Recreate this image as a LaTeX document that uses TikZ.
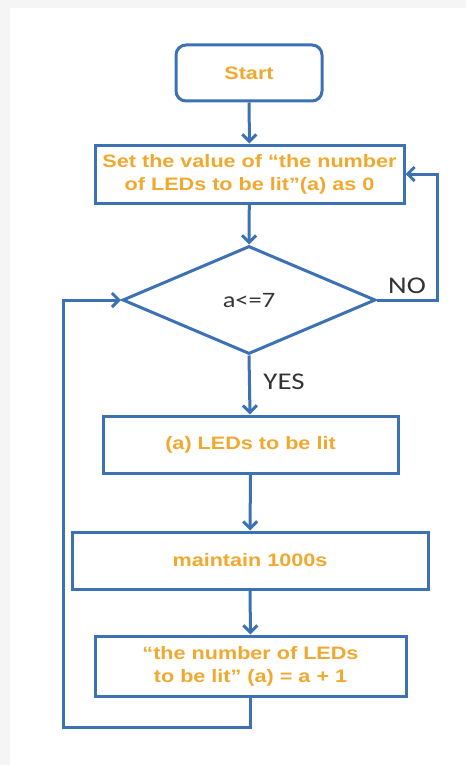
\documentclass[tikz,border=0pt]{standalone}
\usepackage{fontspec}
\setmainfont{Liberation Sans}
\newfontfamily\ofont[FakeStretch=1.2,Ligatures=TeX]{Liberation Sans}
\newfontfamily\cfont[FakeStretch=1.2]{Carlito}
\usetikzlibrary{arrows.meta,shapes.geometric}
\definecolor{lineblue}{HTML}{3C72B4}
\definecolor{txtorange}{HTML}{F0A92E}
\definecolor{txtdark}{HTML}{333333}
\definecolor{bggray}{HTML}{F5F5F5}
\tikzset{
  flowline/.style={draw=lineblue, line width=3pt},
  arr/.style={flowline, -{Straight Barb[length=7pt,width=14pt,line width=3pt]}},
  procbox/.style={draw=lineblue, line width=3pt, fill=white, minimum height=57pt,
    inner sep=0pt, font=\ofont\bfseries\fontsize{18}{23}\selectfont, text=txtorange, align=center},
  startbox/.style={procbox, rounded corners=10pt},
  decision/.style={draw=lineblue, line width=3pt, fill=white, diamond, aspect=2.35,
    inner sep=0pt, minimum width=253pt, minimum height=108pt},
  lbl/.style={font=\cfont\fontsize{24}{28}\selectfont, text=txtdark},
}
\begin{document}
\begin{tikzpicture}[x=1pt,y=-1pt]
\fill[bggray] (0,0) rectangle (466,765);
\fill[white] (10,8) rectangle (466,765);
\useasboundingbox (0,0) rectangle (466,765);

\node[startbox, minimum width=146pt, minimum height=56pt] (start) at (249,73) {Start};
\node[procbox, minimum width=309pt, minimum height=58pt] (set) at (249.5,174)
  {Set the value of “the number\\of LEDs to be lit”(a) as 0};
\node[decision] (dec) at (249,300) {};
\node[font=\cfont\fontsize{22}{26}\selectfont, text=txtdark] (cond) at (249,301) {a<=7};
\node[procbox, minimum width=295pt] (leds) at (250.5,444.5) {(a) LEDs to be lit};
\node[procbox, minimum width=356pt] (keep) at (250,560.5) {maintain 1000s};
\node[procbox, minimum width=311pt, minimum height=60pt] (inc) at (250.5,666)
  {“the number of LEDs\\to be lit” (a) = a + 1};

\node[lbl] (no) at (407,286) {NO};
\node[lbl] (yes) at (284,382) {YES};

\coordinate (rt) at (437,174);
\coordinate (rb) at (437,300);
\coordinate (lb) at (63,727);
\coordinate (lt) at (63,300);
\coordinate (ib) at (250.5,727);

\draw[arr] (start) -- (set);
\draw[arr] (set) -- (dec.north);
\draw[arr] (dec.south) -- (leds);
\draw[arr] (leds) -- (keep);
\draw[arr] (keep) -- (inc);
\draw[arr] (dec.east) -- (rb) -- (rt) -- (set.east);
\draw[arr] (inc.south) -- (ib) -- (lb) -- (lt) -- (dec.west);
\end{tikzpicture}
\end{document}
